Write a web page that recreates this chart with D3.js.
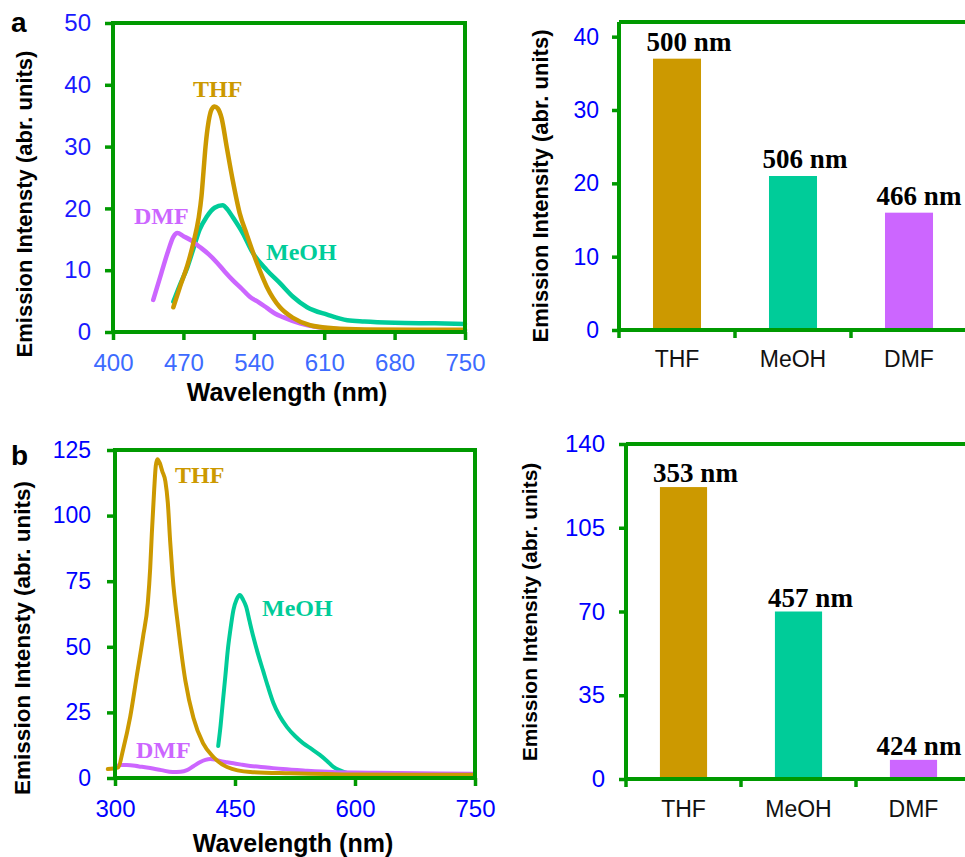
<!DOCTYPE html>
<meta charset="utf-8">
<style>
  body { margin: 0; background: #fff; }
  text { font-family: "Liberation Sans", Arial, sans-serif; }
  .tag { font-family: "Liberation Serif", "Times New Roman", serif; font-weight: bold; }
</style>
<body>
<script src="https://d3js.org/d3.v7.min.js"></script>
<script>

// ---- data ----
// panel a, emission spectra [wavelength nm, intensity]
var aTHF = [[460,4.0],[467,7.5],[474,10.8],[480,14.5],[485,18.3],[488,22],[490,26],[492,30],[495,34],[498,36],[501,36.5],[504,36.2],[508,34.6],[513,30.0],[519,24.6],[526,19.2],[533,15.8],[543,11.2],[553,7.3],[566,4.0],[579,2.3],[596,1.1],[619,0.6],[650,0.4],[700,0.35],[750,0.35]];
var aMeOH = [[460,4.9],[467,7.8],[474,10.5],[480,13.5],[486,16.5],[493,18.6],[501,20.1],[509,20.5],[514,19.8],[519,18.6],[529,16.0],[539,12.8],[553,10.0],[566,7.9],[579,5.7],[593,4.0],[613,2.8],[633,1.9],[650,1.7],[680,1.5],[720,1.4],[750,1.3]];
var aDMF = [[440,5.2],[448,9.5],[455,13.2],[460,15.4],[464,16.0],[470,15.5],[478,14.8],[486,13.8],[495,12.6],[503,11.3],[511,9.8],[519,8.4],[528,7.0],[536,5.7],[545,4.8],[553,3.9],[561,3.0],[569,2.4],[586,1.4],[603,0.8],[630,0.4],[680,0.25],[750,0.2]];

// panel b, emission spectra
var bTHF = [[291,3.4],[298,3.6],[304,4.0],[310,10.7],[319,23.3],[327,38.5],[335,53.7],[341,66.7],[344,80],[346,93],[349,110],[351,119],[353,121.5],[356,120],[359,117],[363,113],[366,105],[369,90],[372,77],[379,57.5],[388,37],[398,23],[410,13.3],[423,8],[440,4.2],[469,2.3],[519,1.8],[602,1.3],[680,1.2],[750,1.2]];
var bMeOH = [[429,12.2],[432,20],[435,29.7],[438,39],[441,48.8],[444,56],[448,64],[452,68],[456,69.7],[460,68],[464,65.2],[468,60],[473,53.7],[479,47],[485,41],[491,35],[498,28.6],[506,23.5],[515,19.4],[525,16],[535,13.3],[546,11],[556,8.8],[565,6.5],[573,4.2],[582,2.8],[590,1.9],[605,1.1],[630,0.7],[680,0.4],[750,0.2]];
var bDMF = [[300,4.0],[306,5.0],[315,5.0],[330,4.4],[344,3.8],[358,3.0],[372,2.3],[382,2.4],[390,3.0],[398,4.5],[406,6.0],[413,6.9],[419,7.2],[425,7.0],[431,6.5],[440,6.0],[448,5.6],[458,5.1],[469,4.6],[490,4.0],[510,3.4],[540,2.8],[572,2.3],[600,2.1],[627,2.0],[680,1.8],[748,1.6]];

// bar charts
var solvents = ["THF", "MeOH", "DMF"];
var aBarVals = [37, 21, 16];
var aPeaks = ["500 nm", "506 nm", "466 nm"];
var bBarVals = [122, 70, 8];
var bPeaks = ["353 nm", "457 nm", "424 nm"];

// tick values
var aXTicks = [400, 470, 540, 610, 680, 750];
var aYTicks = [0, 10, 20, 30, 40, 50];
var aBarTicks = [0, 10, 20, 30, 40];
var bXTicks = [300, 450, 600, 750];
var bYTicks = [0, 25, 50, 75, 100, 125];
var bBarTicks = [0, 35, 70, 105, 140];

var col = { THF: "#cc9900", MeOH: "#00cc99", DMF: "#cc66ff" };
var frameGreen = "#009900";

var svg = d3.select("body").append("svg")
    .attr("width", 965)
    .attr("height", 857);

function styleAxis(g, size, fill) {
  g.select(".domain").remove();
  g.selectAll(".tick line").attr("stroke", frameGreen).attr("stroke-width", 3.5);
  g.selectAll(".tick text")
    .attr("fill", fill)
    .style("font-size", size + "px")
    .style("font-family", "'Liberation Sans', Arial, sans-serif");
}

// spectrum panel
function spectra(p) {
  var x = d3.scaleLinear().domain(p.xDom).range([p.x0, p.x1]);
  var y = d3.scaleLinear().domain(p.yDom).range([p.y0, p.y1]);
  var g = svg.append("g");

  var line = d3.line()
      .x(function(d) { return x(d[0]); })
      .y(function(d) { return y(d[1]); })
      .curve(d3.curveMonotoneX);

  p.series.forEach(function(s) {
    g.append("path")
      .datum(s.data)
      .attr("fill", "none")
      .attr("stroke", col[s.name])
      .attr("stroke-width", p.lw)
      .attr("stroke-linejoin", "round")
      .attr("stroke-linecap", "round")
      .attr("d", line);
  });

  g.append("rect")
    .attr("x", p.x0).attr("y", p.y1)
    .attr("width", p.x1 - p.x0).attr("height", p.y0 - p.y1)
    .attr("fill", "none")
    .attr("stroke", frameGreen)
    .attr("stroke-width", 4);

  g.append("g")
    .attr("transform", "translate(" + p.x0 + ",0)")
    .call(d3.axisLeft(y).tickValues(p.yTicks).tickSize(8).tickPadding(p.yPad))
    .call(styleAxis, p.yFont, p.yCol);

  g.append("g")
    .attr("transform", "translate(0," + p.y0 + ")")
    .call(d3.axisBottom(x).tickValues(p.xTicks).tickSize(8).tickPadding(14))
    .call(styleAxis, p.xFont, p.xCol);

  // curve names
  p.tags.forEach(function(t) {
    g.append("text")
      .attr("class", "tag")
      .attr("x", t.x).attr("y", t.y)
      .attr("fill", col[t.name])
      .style("font-size", "24px")
      .text(t.name);
  });

  g.append("text")
    .attr("x", (p.x0 + p.x1) / 2 - 2)
    .attr("y", p.xTitleY)
    .attr("text-anchor", "middle")
    .style("font-size", "25px")
    .style("font-weight", "bold")
    .text("Wavelength (nm)");

  g.append("text")
    .attr("transform", "translate(" + p.yTitleX + "," + p.yTitleC + ") rotate(-90)")
    .attr("text-anchor", "middle")
    .style("font-size", p.yTitleSize + "px")
    .style("font-weight", "bold")
    .text("Emission Intensty (abr. units)");
}

// bar panel
function bars(p) {
  var x = d3.scaleBand().domain(solvents).range([p.x0, p.x1])
      .paddingInner(p.pad).paddingOuter(p.pad / 2);
  var y = d3.scaleLinear().domain(p.yDom).range([p.y0, p.y1]);
  var g = svg.append("g");

  g.selectAll("rect.bar")
    .data(solvents)
    .enter().append("rect")
      .attr("class", "bar")
      .attr("x", function(d) { return x(d); })
      .attr("width", x.bandwidth())
      .attr("y", function(d, i) { return y(p.vals[i]); })
      .attr("height", function(d, i) { return y(0) - y(p.vals[i]); })
      .attr("fill", function(d) { return col[d]; });

  g.selectAll("text.peak")
    .data(solvents)
    .enter().append("text")
      .attr("class", "tag")
      .attr("x", function(d) { return Math.min(x(d) + x.bandwidth() / 2 + 12, 919); })
      .attr("y", function(d, i) { return y(p.vals[i]) - p.labOff; })
      .attr("text-anchor", "middle")
      .style("font-size", "27px")
      .text(function(d, i) { return p.peaks[i]; });

  // frame: top, left, bottom (right side runs off the page)
  g.append("path")
    .attr("d", "M" + p.x0 + "," + p.y1 + "H" + (p.x1 + 10) + "M" + p.x0 + "," + p.y1 + "V" + p.y0 + "H" + (p.x1 + 10))
    .attr("fill", "none")
    .attr("stroke", frameGreen)
    .attr("stroke-width", 4);

  g.append("g")
    .attr("transform", "translate(" + p.x0 + ",0)")
    .call(d3.axisLeft(y).tickValues(p.yTicks).tickSize(7).tickPadding(p.yPad))
    .call(styleAxis, p.yFont, "#0000ff");

  // ticks between categories
  g.selectAll("line.sep")
    .data(d3.range(solvents.length))
    .enter().append("line")
      .attr("x1", function(i) { return p.x0 + i * x.step(); })
      .attr("x2", function(i) { return p.x0 + i * x.step(); })
      .attr("y1", p.y0).attr("y2", p.y0 + 8)
      .attr("stroke", frameGreen)
      .attr("stroke-width", 3.5);

  g.append("g")
    .attr("transform", "translate(0," + p.y0 + ")")
    .call(d3.axisBottom(x).tickSize(0).tickPadding(p.catPad))
    .call(styleAxis, 23, "#111");

  g.append("text")
    .attr("transform", "translate(" + p.yTitleX + "," + p.yTitleC + ") rotate(-90)")
    .attr("text-anchor", "middle")
    .style("font-size", p.yTitleSize + "px")
    .style("font-weight", "bold")
    .text("Emission Intensity (abr. units)");
}

spectra({
  xDom: [400, 750], yDom: [0, 50],
  x0: 113, x1: 465, y0: 332, y1: 23,
  xTicks: aXTicks, yTicks: aYTicks,
  yPad: 14, yFont: 24, yCol: "#1a1aff", xFont: 24, xCol: "#3d6bff",
  lw: 4.5,
  series: [{name: "MeOH", data: aMeOH}, {name: "DMF", data: aDMF}, {name: "THF", data: aTHF}],
  tags: [{name: "THF", x: 193, y: 97}, {name: "DMF", x: 134, y: 224}, {name: "MeOH", x: 266, y: 260}],
  xTitleY: 401, yTitleX: 32, yTitleC: 204, yTitleSize: 22
});

bars({
  x0: 619, x1: 967, y0: 330, y1: 22, yDom: [0, 42], pad: 0.586,
  vals: aBarVals, peaks: aPeaks, yTicks: aBarTicks,
  yPad: 13, yFont: 23, labOff: 8, catPad: 21,
  yTitleX: 548, yTitleC: 186, yTitleSize: 22
});

spectra({
  xDom: [300, 750], yDom: [0, 125],
  x0: 115, x1: 475, y0: 778, y1: 450,
  xTicks: bXTicks, yTicks: bYTicks,
  yPad: 16, yFont: 23, yCol: "#0000ff", xFont: 24, xCol: "#0000ff",
  lw: 4,
  series: [{name: "MeOH", data: bMeOH}, {name: "DMF", data: bDMF}, {name: "THF", data: bTHF}],
  tags: [{name: "THF", x: 175, y: 483}, {name: "MeOH", x: 262, y: 616}, {name: "DMF", x: 136, y: 758}],
  xTitleY: 852, yTitleX: 30, yTitleC: 638, yTitleSize: 22.5
});

bars({
  x0: 626, x1: 971, y0: 779, y1: 444, yDom: [0, 140], pad: 0.59,
  vals: bBarVals, peaks: bPeaks, yTicks: bBarTicks,
  yPad: 14, yFont: 24, labOff: 5, catPad: 22,
  yTitleX: 537, yTitleC: 612, yTitleSize: 21
});

// panel letters
svg.append("text").attr("x", 11).attr("y", 32)
  .style("font-size", "28px").style("font-weight", "bold").text("a");
svg.append("text").attr("x", 11).attr("y", 465)
  .style("font-size", "28px").style("font-weight", "bold").text("b");

</script>
</body>
